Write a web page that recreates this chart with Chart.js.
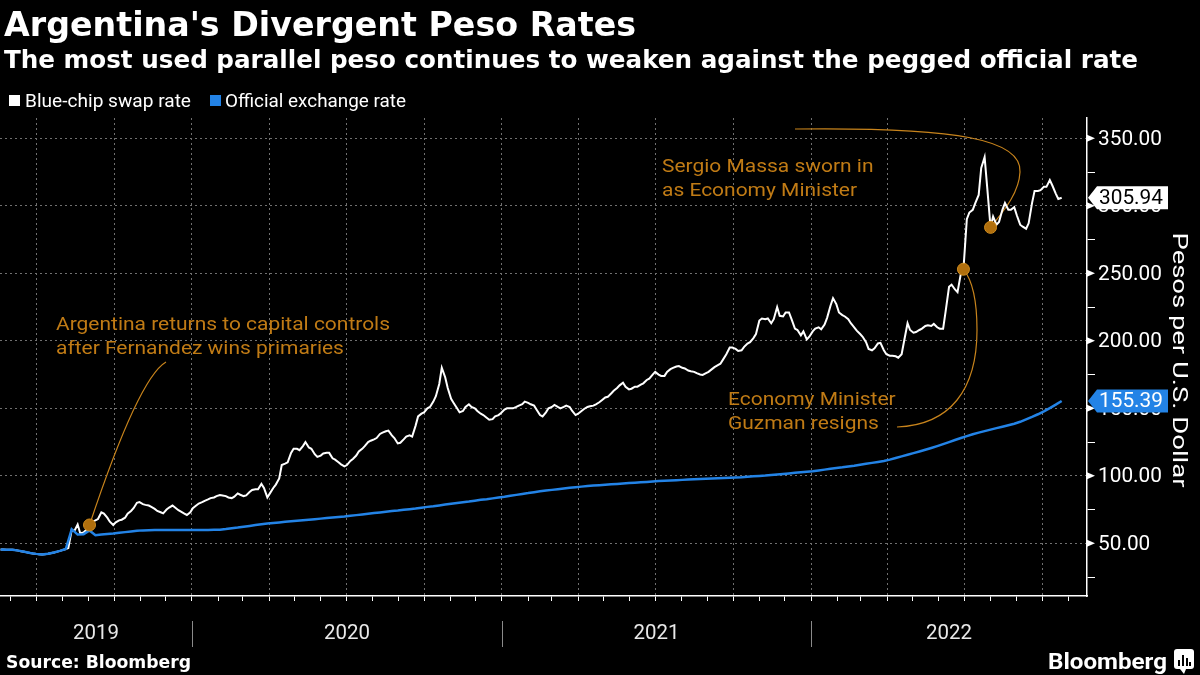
<!DOCTYPE html>
<html>
<head>
<meta charset="utf-8">
<script src="https://cdn.jsdelivr.net/npm/chart.js@4.4.0/dist/chart.umd.min.js"></script>
<style>
html,body{margin:0;padding:0;background:#000;width:1200px;height:675px;overflow:hidden;}
canvas{display:block;}
</style>
</head>
<body>
<canvas id="c" width="1200" height="675"></canvas>
<script>
// ---------- DATA ----------
// Weeks start on Monday 2019-05-20; swap rate read on Mondays and Thursdays, official rate on Mondays.
const weekStart = '2019-05-20';
const swapRateMon = [
 45.5,45.3,45.2,44.6,43.8,42.8,42.2,41.7,42.3,43.2,44.4,45.8,
 60,64,58,63.6,67,73,69,63.6,67,69,74,80,
 79,78,75.5,73,75,78,74.5,72,73,78,80.5,82.5,
 84,85.8,85,83.5,87,85,88,90,94,84,91,98,
 109,117,120,122,121,116,115,117,113,110,107,111,
 115,120,125,127,131,133,130,124,127,130,137,146,
 150,155,168,173,157,150,148,153,150,146,143,142,
 145,149,150,151,153,154,152,145,147,151,151,151,
 151,145,148,151,152,154.5,158,161,165,169,164,166,
 167.5,171,175,175,174,179,181,180,178,177,175,176,
 179,182,187,195,194,193,198,202,215,216,213,225,
 218,221,209,204,201,207,210,212,226,227,219,216,
 210,205,199,193,198,193,189,188.5,190,213,206,208,
 211,211,210,209,240,238,250,290,297,308,336,284,
 286,297,297,299,286,283,302,311,314,319,309,305.94
];
const swapRateThu = [
 45.4,45.3,45.0,44.2,43.3,42.5,42.0,41.9,42.7,43.7,45.0,46.5,
 59,57.5,60,66,68,72,66,65.5,67.5,72,76,80.5,
 78.5,77,74,72.2,76.5,76.5,73.5,71,76,79.5,81.5,83.5,
 85,85.5,84,84.5,86,85.5,89.5,90,91,87,93.5,108,
 110,120,119,125,120,114,116.5,117,112,108.5,108,112.5,
 118,122,126,128,132,133.5,128,124.5,129,129,144,147,
 151,159,180,165,154,147,151,151,148,145,141.5,144,
 146.5,150,150,152,155,153,149,144,150,152.5,150,152,
 148,146,149.5,151.5,153,156,158.5,163,167,166,164.5,166,
 168.5,172,177,174,177,180,181.3,179.5,177.5,176,174.7,177,
 180.5,183,190,195,192.5,195.5,199,205,216.5,216.5,216,218.5,
 221,216,208,207,203,209,208.5,217,231.6,221,218,213,
 207.5,203,194,194.5,198.5,190,189,187.5,200,208,206.5,209,
 211.5,212.5,209,222,241.5,236,253,295,302,328,314,292,
 288,302,297,293,284.5,287,311,311.6,314,315,305
];
const officialRate = [
 45.5,45.3,45.2,44.6,43.8,42.8,42.2,41.7,42.3,43.2,44.4,45.8,
 60.5,56.5,56.8,59.5,56.0,56.5,57.0,57.3,57.8,58.3,58.8,59.3,
 59.6,59.7,59.8,59.8,59.8,59.8,59.8,59.9,59.9,59.9,59.9,59.9,
 60.0,60.1,60.6,61.2,61.7,62.3,62.9,63.5,64.1,64.7,65.1,65.5,
 65.9,66.3,66.7,67.1,67.5,67.9,68.3,68.7,69.1,69.5,69.9,70.4,
 70.9,71.4,71.9,72.4,72.9,73.4,73.9,74.3,74.8,75.3,75.8,76.4,
 77.0,77.5,78.1,78.7,79.3,79.9,80.5,81.0,81.6,82.2,82.7,83.3,
 83.9,84.5,85.2,85.9,86.6,87.2,87.9,88.5,89.1,89.6,90.1,90.6,
 91.1,91.6,92.0,92.4,92.8,93.1,93.4,93.7,94.0,94.3,94.6,94.9,
 95.2,95.5,95.8,96.1,96.4,96.6,96.8,97.0,97.2,97.4,97.6,97.8,
 98.0,98.2,98.4,98.6,98.8,99.0,99.3,99.6,99.9,100.2,100.6,101.0,
 101.4,101.8,102.2,102.6,103.0,103.4,104.0,104.6,105.2,105.8,106.3,106.9,
 107.5,108.2,108.9,109.6,110.3,111.0,112.0,113.2,114.4,115.6,116.8,118.0,
 119.3,120.6,122.0,123.5,125.0,126.5,128.0,129.4,130.8,132.0,133.1,134.2,
 135.3,136.4,137.5,138.6,140.0,141.8,143.6,145.6,147.8,150.2,152.7,155.39
];
const eventDates  = ['2019-09-02', '2022-06-30', '2022-08-01'];
const eventValues = [63.6, 253, 284];
const eventLabels = [
  ['Argentina returns to capital controls', 'after Fernandez wins primaries'],
  ['Economy Minister', 'Guzman resigns'],
  ['Sergio Massa sworn in', 'as Economy Minister']
];
const seriesNames = ['Blue-chip swap rate', 'Official exchange rate'];
const yTickValues = [25,50,75,100,125,150,175,200,225,250,275,300,325,350];
const yearLabels = ['2019','2020','2021','2022'];
const axisStart = '2019-05-19', axisEnd = '2022-11-22';
const yMin = 11, yMax = 365;

// ---------- helpers ----------
function dayNum(s){const p=s.split('-').map(Number);return Date.UTC(p[0],p[1]-1,p[2])/864e5;}
const x0 = dayNum(weekStart);
const xMin = dayNum(axisStart)+0.3, xMax = dayNum(axisEnd)+0.9;
const monthTicks=[];
for(let y=2019;y<=2022;y++)for(let m=0;m<12;m++){const v=Date.UTC(y,m,1)/864e5;if(v>xMin&&v<xMax)monthTicks.push(v);}
function isQuarter(v){return new Date(v*864e5).getUTCMonth()%3===0;}

const swapPoints=[];
swapRateMon.forEach((v,i)=>{
  swapPoints.push({x:x0+7*i,y:v});
  if(i<swapRateThu.length) swapPoints.push({x:x0+7*i+3,y:swapRateThu[i]});
});
const officialPoints=officialRate.map((v,i)=>({x:x0+7*i,y:v}));
const lastSwap=swapRateMon[swapRateMon.length-1], lastOfficial=officialRate[officialRate.length-1];

const WHITE='#ffffff', BLUE='#2383e6', ORANGE='#c07b15', ORANGE_LINE='#c8841c', GRID='#707070';
const REG='Roboto, "Open Sans", sans-serif';
const BOLD='"DejaVu Sans", sans-serif';

function fitText(ctx,text,x,y,font,color,target,align){
  ctx.save();
  ctx.font=font;
  const w=ctx.measureText(text).width;
  const k=target?target/w:1;
  ctx.translate(x,y);ctx.scale(k,1);
  ctx.fillStyle=color;ctx.textAlign=align||'left';
  ctx.fillText(text,0,0);
  ctx.restore();
  return k;
}
function scaledText(ctx,text,x,y,font,color,k,align,baseline){
  ctx.save();
  ctx.font=font;ctx.translate(x,y);ctx.scale(k,1);
  ctx.fillStyle=color;ctx.textAlign=align||'left';ctx.textBaseline=baseline||'alphabetic';
  ctx.fillText(text,0,0);ctx.restore();
}
function kFor(ctx,text,font,target){ctx.save();ctx.font=font;const w=ctx.measureText(text).width;ctx.restore();return target/w;}

const overlay = {
  id:'overlay',
  beforeDatasetsDraw(chart){
    const ctx=chart.ctx, sx=chart.scales.x, sy=chart.scales.y;
    const p=eventDates.map((d,i)=>({x:sx.getPixelForValue(dayNum(d)),y:sy.getPixelForValue(eventValues[i])}));
    ctx.save();
    ctx.strokeStyle=ORANGE_LINE;ctx.lineWidth=1.2;
    ctx.beginPath();ctx.moveTo(166,362);ctx.quadraticCurveTo(138.5,378,p[0].x,p[0].y);ctx.stroke();
    ctx.beginPath();ctx.moveTo(897,427);ctx.bezierCurveTo(950,425,977,390,977,330);ctx.bezierCurveTo(977,300,972,280,p[1].x,p[1].y);ctx.stroke();
    ctx.beginPath();ctx.moveTo(795,129);ctx.bezierCurveTo(960,127,1022,140,1020,172);ctx.bezierCurveTo(1019,195,1000,215,p[2].x,p[2].y);ctx.stroke();
    ctx.restore();
  },
  afterDraw(chart){
    const ctx=chart.ctx, sx=chart.scales.x, sy=chart.scales.y, ca=chart.chartArea;
    // titles
    fitText(ctx,"Argentina's Divergent Peso Rates",4,36,'bold 33px '+BOLD,WHITE,632);
    fitText(ctx,'The most used parallel peso continues to weaken against the pegged official rate',4,68,'bold 24px '+BOLD,WHITE,1134);
    // legend
    ctx.fillStyle=WHITE;ctx.fillRect(9,95,11,11);
    fitText(ctx,seriesNames[0],25,107,'18px '+REG,WHITE,166);
    ctx.fillStyle=BLUE;ctx.fillRect(210,95,11,11);
    fitText(ctx,seriesNames[1],225,107,'18px '+REG,WHITE,181);
    // y major tick arrows + labels
    const tf='21px '+REG;
    const kt=kFor(ctx,'350.00',tf,64);
    yTickValues.filter(v=>v%50===0).forEach(v=>{
      const y=sy.getPixelForValue(v);
      ctx.fillStyle=WHITE;ctx.beginPath();ctx.moveTo(ca.right,y-3.5);ctx.lineTo(ca.right+8,y);ctx.lineTo(ca.right,y+3.5);ctx.closePath();ctx.fill();
      scaledText(ctx,v.toFixed(2),1098,y+1,tf,WHITE,kt,'left','middle');
    });
    // axis title
    ctx.save();ctx.translate(1180,360);ctx.rotate(Math.PI/2);
    fitText(ctx,'Pesos per U.S. Dollar',0,7,'21px '+REG,WHITE,255,'center');
    ctx.restore();
    // last value tags
    const tags=[[lastSwap,'#ffffff','#000000'],[lastOfficial,BLUE,'#ffffff']];
    tags.forEach(t=>{
      const y=sy.getPixelForValue(t[0]);
      ctx.fillStyle=t[1];ctx.beginPath();
      ctx.moveTo(1088,y);ctx.lineTo(1097,y-11.5);ctx.lineTo(1168,y-11.5);ctx.lineTo(1168,y+11.5);ctx.lineTo(1097,y+11.5);ctx.closePath();ctx.fill();
      scaledText(ctx,t[0].toFixed(2),1099,y+1,tf,t[2],kt,'left','middle');
    });
    // year labels + separators
    const yf='21px '+REG;
    const ky=kFor(ctx,'2019',yf,46);
    for(let i=0;i<yearLabels.length;i++){
      const yr=+yearLabels[i];
      const a=Math.max(xMin,Date.UTC(yr,0,1)/864e5), b=Math.min(xMax,Date.UTC(yr+1,0,1)/864e5);
      const pa=sx.getPixelForValue(a), pb=sx.getPixelForValue(b);
      scaledText(ctx,yearLabels[i],(pa+pb)/2,634,yf,'#e8e8e8',ky,'center','middle');
      if(i>0){ctx.strokeStyle='#8a8a8a';ctx.lineWidth=1;ctx.beginPath();ctx.moveTo(Math.round(pa)+0.5,621);ctx.lineTo(Math.round(pa)+0.5,647);ctx.stroke();}
    }
    // annotation texts
    const af='19px '+REG;
    const ka=kFor(ctx,eventLabels[0][0],af,334);
    const apos=[[56,325],[728,400],[662,167]];
    eventLabels.forEach((lines,i)=>{
      lines.forEach((s,j)=>scaledText(ctx,s,apos[i][0],apos[i][1]+j*24,af,ORANGE,ka,'left','middle'));
    });
    // source + logo
    fitText(ctx,'Source: Bloomberg',6,668,'bold 18px '+BOLD,WHITE,185);
    fitText(ctx,'Bloomberg',1048,669,'bold 22px '+REG,WHITE,119);
    ctx.fillStyle=WHITE;
    ctx.beginPath();ctx.roundRect(1174,649,20,20,3);ctx.fill();
    ctx.beginPath();ctx.moveTo(1180,669);ctx.lineTo(1184,674);ctx.lineTo(1186,669);ctx.fill();
    ctx.fillStyle='#000';
    ctx.fillRect(1178,660,2,6);ctx.fillRect(1182,655,2,11);ctx.fillRect(1186,658,2,8);ctx.fillRect(1189,662,2,4);
  }
};

new Chart(document.getElementById('c'),{
  type:'line',
  data:{datasets:[
    {type:'scatter',label:'events',data:eventDates.map((d,i)=>({x:dayNum(d),y:eventValues[i]})),
     backgroundColor:'#b06f0d',borderColor:'#d08c1e',borderWidth:1,pointRadius:6,order:0},
    {label:seriesNames[1],data:officialPoints,borderColor:BLUE,borderWidth:2.5,pointRadius:0,tension:0,order:1},
    {label:seriesNames[0],data:swapPoints,borderColor:WHITE,borderWidth:2,pointRadius:0,tension:0,order:2}
  ]},
  options:{
    responsive:false,animation:false,devicePixelRatio:1,
    layout:{autoPadding:false,padding:{top:118,left:0,right:0,bottom:0}},
    plugins:{legend:{display:false},title:{display:false},tooltip:{enabled:false}},
    scales:{
      x:{type:'linear',position:'bottom',min:xMin,max:xMax,
        afterBuildTicks:s=>{s.ticks=monthTicks.map(v=>({value:v}));},
        afterFit:s=>{s.height=79;},
        ticks:{display:false},
        grid:{color:c=>(c.tick&&isQuarter(c.tick.value))?GRID:'rgba(0,0,0,0)',lineWidth:1,drawTicks:true,tickLength:5,tickColor:WHITE,tickWidth:1},
        border:{display:true,color:WHITE,width:1.5,dash:[2,3]}
      },
      y:{type:'linear',position:'right',min:yMin,max:yMax,
        afterBuildTicks:s=>{s.ticks=yTickValues.map(v=>({value:v}));},
        afterFit:s=>{s.width=113;},
        ticks:{display:false},
        grid:{color:c=>(c.tick&&c.tick.value%50===0)?GRID:'rgba(0,0,0,0)',lineWidth:1,drawTicks:true,tickLength:8,
              tickColor:c=>(c.tick&&c.tick.value%50===0)?'rgba(0,0,0,0)':WHITE,tickWidth:1},
        border:{display:true,color:WHITE,width:1.5,dash:[2,3]}
      }
    }
  },
  plugins:[overlay]
});
</script>
</body>
</html>
